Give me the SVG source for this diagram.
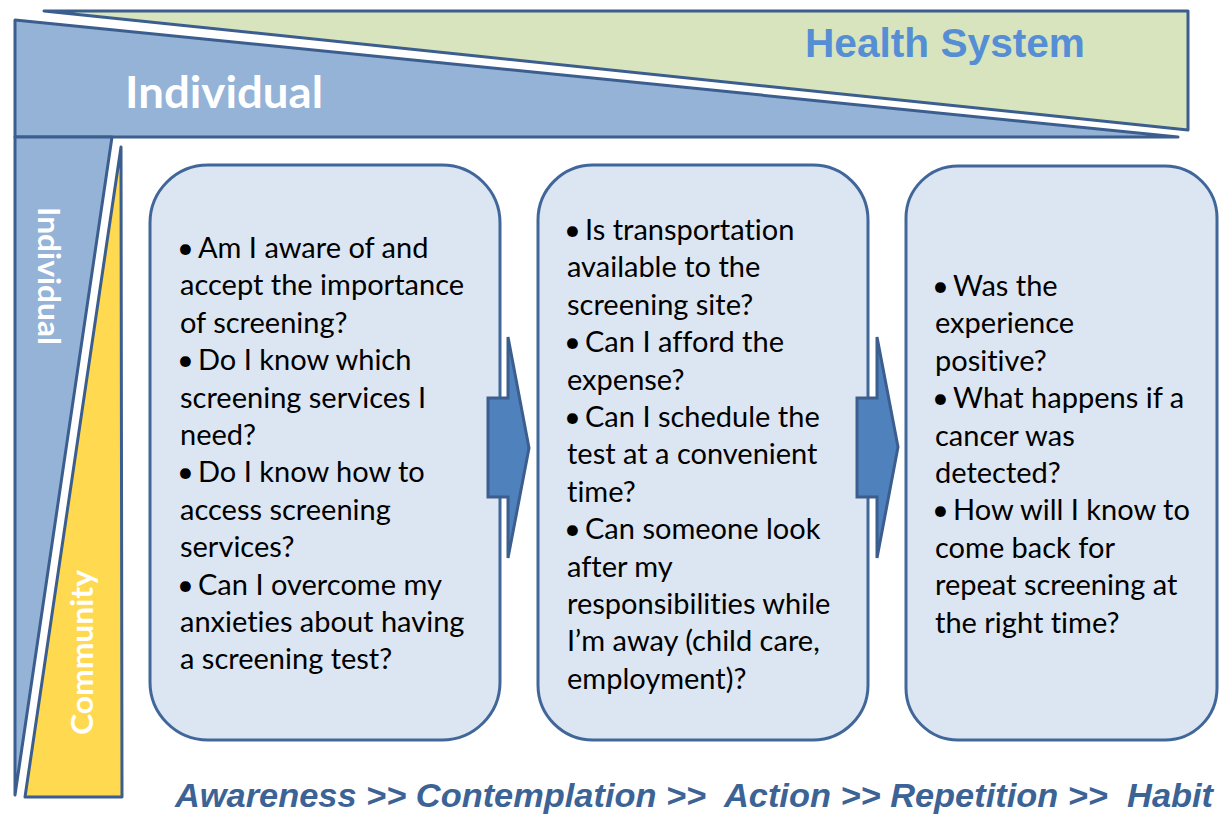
<svg xmlns="http://www.w3.org/2000/svg" width="1222" height="814" viewBox="0 0 1222 814">
<style>
.band{stroke:#3B5E8E;stroke-width:3;stroke-linejoin:round}
.box{fill:#DCE6F2;stroke:#41679A;stroke-width:3}
.arrow{fill:#4F81BD;stroke:#3B5E8E;stroke-width:3;stroke-linejoin:miter}
.t{font-family:Lato,"Liberation Sans",sans-serif;font-size:29px;fill:#000;font-variant-ligatures:none}
.lbl{font-family:Lato,"Liberation Sans",sans-serif;font-weight:bold;fill:#FFFFFF}
.stage{font-family:"Liberation Sans",Arial,sans-serif;font-weight:bold;font-style:italic;font-size:34px;fill:#3C6395}
</style>
<rect width="1222" height="814" fill="#FFFFFF"/>
<g id="health-system">
<polygon class="band" points="44,11 1188,11 1188,130" fill="#D7E4BD"/>
<text x="805" y="57" font-family="'Liberation Sans',Arial,sans-serif" font-weight="bold" font-size="41" fill="#558ED5" textLength="280" lengthAdjust="spacingAndGlyphs">Health System</text>
</g>
<g id="individual-horizontal">
<polygon class="band" points="15,20 1178,137 15,137" fill="#95B3D7"/>
<text class="lbl" x="125" y="108" font-size="43" textLength="198" lengthAdjust="spacingAndGlyphs">Individual</text>
</g>
<g id="individual-vertical">
<polygon class="band" points="15,137 112,137 15,795" fill="#95B3D7"/>
<text class="lbl" font-size="31" transform="translate(38,207) rotate(90)" textLength="138" lengthAdjust="spacingAndGlyphs">Individual</text>
</g>
<g id="community">
<polygon class="band" points="121,147 122,797 25,797" fill="#FFD94F"/>
<text class="lbl" font-size="31" transform="translate(93,735) rotate(-90)" textLength="165" lengthAdjust="spacingAndGlyphs">Community</text>
</g>
<g id="box-awareness">
<rect class="box" x="150" y="165" width="350" height="575" rx="58" ry="58"/>
<text class="t">
<tspan x="177" y="258">•</tspan><tspan x="198">Am I aware of and</tspan>
<tspan x="180" y="295.4">accept the importance</tspan>
<tspan x="180" y="332.8">of screening?</tspan>
<tspan x="177" y="370.2">•</tspan><tspan x="198">Do I know which</tspan>
<tspan x="180" y="407.6">screening services I</tspan>
<tspan x="180" y="445">need?</tspan>
<tspan x="177" y="482.4">•</tspan><tspan x="198">Do I know how to</tspan>
<tspan x="180" y="519.8">access screening</tspan>
<tspan x="180" y="557.2">services?</tspan>
<tspan x="177" y="594.6">•</tspan><tspan x="198">Can I overcome my</tspan>
<tspan x="180" y="632">anxieties about having</tspan>
<tspan x="180" y="669.4">a screening test?</tspan>
</text>
</g>
<g id="box-action">
<rect class="box" x="538" y="165" width="330" height="575" rx="55" ry="55"/>
<text class="t">
<tspan x="564" y="240">•</tspan><tspan x="585">Is transportation</tspan>
<tspan x="567" y="277.4">available to the</tspan>
<tspan x="567" y="314.8">screening site?</tspan>
<tspan x="564" y="352.2">•</tspan><tspan x="585">Can I afford the</tspan>
<tspan x="567" y="389.6">expense?</tspan>
<tspan x="564" y="427">•</tspan><tspan x="585">Can I schedule the</tspan>
<tspan x="567" y="464.4">test at a convenient</tspan>
<tspan x="567" y="501.8">time?</tspan>
<tspan x="564" y="539.2">•</tspan><tspan x="585">Can someone look</tspan>
<tspan x="567" y="576.6">after my</tspan>
<tspan x="567" y="614">responsibilities while</tspan>
<tspan x="567" y="651.4">I’m away (child care,</tspan>
<tspan x="567" y="688.8">employment)?</tspan>
</text>
</g>
<g id="box-repetition">
<rect class="box" x="906" y="166" width="311" height="574" rx="52" ry="52"/>
<text class="t">
<tspan x="932" y="296">•</tspan><tspan x="953">Was the</tspan>
<tspan x="935" y="333.4">experience</tspan>
<tspan x="935" y="370.8">positive?</tspan>
<tspan x="932" y="408.2">•</tspan><tspan x="953">What happens if a</tspan>
<tspan x="935" y="445.6">cancer was</tspan>
<tspan x="935" y="483">detected?</tspan>
<tspan x="932" y="520.4">•</tspan><tspan x="953">How will I know to</tspan>
<tspan x="935" y="557.8">come back for</tspan>
<tspan x="935" y="595.2">repeat screening at</tspan>
<tspan x="935" y="632.6">the right time?</tspan>
</text>
</g>
<g id="connectors">
<polygon class="arrow" points="488,398 508,398 508,337 529,448 508,558 508,497 488,497"/>
<polygon class="arrow" points="857,398 877,398 877,337 898,447 877,558 877,497 857,497"/>
</g>
<g id="stages">
<text class="stage" x="175" y="807" textLength="1038" lengthAdjust="spacingAndGlyphs" xml:space="preserve">Awareness &gt;&gt; Contemplation &gt;&gt;  Action &gt;&gt; Repetition &gt;&gt;  Habit</text>
</g>
</svg>
